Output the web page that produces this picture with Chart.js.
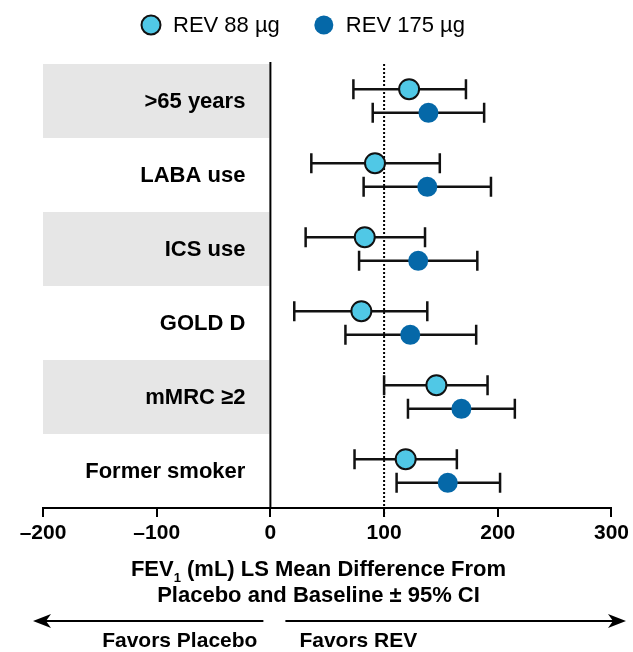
<!DOCTYPE html>
<html>
<head>
<meta charset="utf-8">
<script src="https://cdn.jsdelivr.net/npm/chart.js@4.4.1/dist/chart.umd.min.js"></script>
<style>
  html, body { margin: 0; padding: 0; background: #fff; }
  #wrap { position: relative; width: 633px; height: 652px; }
</style>
</head>
<body>
<div id="wrap"><canvas id="forest"></canvas></div>
<script>
// subgroups, top to bottom
const categories = ['>65 years', 'LABA use', 'ICS use', 'GOLD D', 'mMRC \u22652', 'Former smoker'];

// REV 88 µg: LS mean difference and 95% CI (mL)
const rev88Mean = [122, 92, 83, 80, 146, 119];
const rev88Low  = [73, 36, 31, 21, 100, 74];
const rev88High = [172, 149, 136, 138, 191, 164];

// REV 175 µg
const rev175Mean = [139, 138, 130, 123, 168, 156];
const rev175Low  = [90, 82, 78, 66, 121, 111];
const rev175High = [188, 194, 182, 181, 215, 202];

const xTicks = [-200, -100, 0, 100, 200, 300];
const xTickLabels = ['\u2013200', '\u2013100', '0', '100', '200', '300'];

const FONT = "'Liberation Sans', Arial, Helvetica, sans-serif";
const LIGHT = '#50c8e6';
const DARK = '#0568a8';
const ROW_SHIFT = 0.16;

Chart.defaults.font.family = FONT;
Chart.defaults.color = '#000';

function toPoints(means, lows, highs, shift) {
    return means.map((m, i) => ({ x: m, y: i + shift, lo: lows[i], hi: highs[i] }));
}

const forestDecor = {
    id: 'forestDecor',
    beforeDatasetsDraw(chart) {
        const { ctx, chartArea, scales } = chart;
        const xs = scales.x, ys = scales.y;
        const x0 = xs.getPixelForValue(0);
        ctx.save();

        // shaded rows behind the labels
        ctx.fillStyle = '#e6e6e6';
        categories.forEach((c, i) => {
            if (i % 2 !== 0) return;
            const top = ys.getPixelForValue(i - 0.5);
            const bot = ys.getPixelForValue(i + 0.5);
            ctx.fillRect(chartArea.left, top, x0 - chartArea.left - 1, bot - top);
        });

        // subgroup labels
        ctx.fillStyle = '#000';
        ctx.font = 'bold 22px ' + FONT;
        ctx.textAlign = 'right';
        ctx.textBaseline = 'middle';
        categories.forEach((c, i) => {
            ctx.fillText(c, x0 - 25, ys.getPixelForValue(i) + 1);
        });

        // zero line
        ctx.strokeStyle = '#000';
        ctx.lineWidth = 2;
        ctx.beginPath();
        ctx.moveTo(x0, chartArea.top - 2);
        ctx.lineTo(x0, chartArea.bottom);
        ctx.stroke();

        // dotted line at 100
        const x100 = xs.getPixelForValue(100);
        ctx.setLineDash([2, 2]);
        ctx.beginPath();
        ctx.moveTo(x100, chartArea.top);
        ctx.lineTo(x100, chartArea.bottom + 9);
        ctx.stroke();
        ctx.setLineDash([]);

        // confidence intervals
        ctx.strokeStyle = '#111';
        ctx.lineWidth = 2.5;
        chart.data.datasets.forEach(ds => {
            ds.data.forEach(p => {
                const y = ys.getPixelForValue(p.y);
                const a = xs.getPixelForValue(p.lo);
                const b = xs.getPixelForValue(p.hi);
                ctx.beginPath();
                ctx.moveTo(a, y); ctx.lineTo(b, y);
                ctx.moveTo(a, y - 10); ctx.lineTo(a, y + 10);
                ctx.moveTo(b, y - 10); ctx.lineTo(b, y + 10);
                ctx.stroke();
            });
        });
        ctx.restore();
    },
    afterDraw(chart) {
        const { ctx, scales } = chart;
        const x0 = scales.x.getPixelForValue(0);
        const cx = chart.width / 2 + 2;
        ctx.save();
        ctx.fillStyle = '#000';
        ctx.textBaseline = 'middle';

        // legend
        ctx.font = '22px ' + FONT;
        ctx.textAlign = 'left';
        let lx = 151;
        chart.data.datasets.forEach(ds => {
            ctx.beginPath();
            ctx.arc(lx, 25, 9.5, 0, Math.PI * 2);
            ctx.fillStyle = ds.backgroundColor;
            ctx.fill();
            if (ds.borderWidth) {
                ctx.lineWidth = ds.borderWidth;
                ctx.strokeStyle = ds.borderColor;
                ctx.stroke();
            }
            ctx.fillStyle = '#000';
            ctx.fillText(ds.label, lx + 22, 26);
            lx += 22 + ctx.measureText(ds.label).width + 44;
        });

        // axis title with subscript
        ctx.font = 'bold 22px ' + FONT;
        const p1 = 'FEV', p2 = ' (mL) LS Mean Difference From';
        const w1 = ctx.measureText(p1).width, w2 = ctx.measureText(p2).width;
        ctx.font = 'bold 13px ' + FONT;
        const ws = ctx.measureText('1').width;
        let tx = cx - (w1 + ws + w2) / 2;
        ctx.textAlign = 'left';
        ctx.font = 'bold 22px ' + FONT;
        ctx.fillText(p1, tx, 570);
        ctx.font = 'bold 13px ' + FONT;
        ctx.fillText('1', tx + w1, 578);
        ctx.font = 'bold 22px ' + FONT;
        ctx.fillText(p2, tx + w1 + ws, 570);
        ctx.textAlign = 'center';
        ctx.fillText('Placebo and Baseline \u00b1 95% CI', cx, 596);

        // direction arrows
        ctx.strokeStyle = '#000';
        ctx.lineWidth = 2;
        const ay = 621;
        const leftTip = 33, rightTip = 626;
        ctx.beginPath();
        ctx.moveTo(x0 - 7, ay); ctx.lineTo(leftTip + 10, ay);
        ctx.moveTo(x0 + 15, ay); ctx.lineTo(rightTip - 10, ay);
        ctx.stroke();
        ctx.beginPath();
        ctx.moveTo(leftTip, ay); ctx.lineTo(leftTip + 18, ay - 7); ctx.lineTo(leftTip + 13, ay); ctx.lineTo(leftTip + 18, ay + 7);
        ctx.closePath(); ctx.fill();
        ctx.beginPath();
        ctx.moveTo(rightTip, ay); ctx.lineTo(rightTip - 18, ay - 7); ctx.lineTo(rightTip - 13, ay); ctx.lineTo(rightTip - 18, ay + 7);
        ctx.closePath(); ctx.fill();

        ctx.font = 'bold 21px ' + FONT;
        ctx.textAlign = 'right';
        ctx.fillText('Favors Placebo', x0 - 13, 641);
        ctx.textAlign = 'left';
        ctx.fillText('Favors REV', x0 + 29, 641);
        ctx.restore();
    }
};

new Chart(document.getElementById('forest'), {
    type: 'scatter',
    data: {
        datasets: [{
            label: 'REV 88 \u00b5g',
            data: toPoints(rev88Mean, rev88Low, rev88High, -ROW_SHIFT),
            backgroundColor: LIGHT,
            borderColor: '#111',
            borderWidth: 2,
            pointRadius: 10,
            pointHoverRadius: 10
        }, {
            label: 'REV 175 \u00b5g',
            data: toPoints(rev175Mean, rev175Low, rev175High, ROW_SHIFT),
            backgroundColor: DARK,
            borderColor: DARK,
            borderWidth: 0,
            pointRadius: 10,
            pointHoverRadius: 10
        }]
    },
    options: {
        responsive: true,
        maintainAspectRatio: false,
        animation: false,
        layout: { padding: { top: 64, left: 43, right: 20, bottom: 104 } },
        scales: {
            x: {
                type: 'linear',
                min: -200,
                max: 300,
                afterBuildTicks: scale => { scale.ticks = xTicks.map(v => ({ value: v })); },
                afterFit: scale => { scale.height = 40; },
                ticks: {
                    color: '#000',
                    font: { size: 21, weight: 'bold' },
                    padding: 4,
                    maxRotation: 0,
                    callback: v => xTickLabels[xTicks.indexOf(v)]
                },
                grid: {
                    drawOnChartArea: false,
                    drawTicks: true,
                    tickLength: 9,
                    color: '#000',
                    lineWidth: 2
                },
                border: { display: true, color: '#000', width: 2 }
            },
            y: {
                type: 'linear',
                display: false,
                reverse: true,
                min: -0.5,
                max: categories.length - 0.5
            }
        },
        plugins: {
            legend: { display: false },
            tooltip: { enabled: false }
        }
    },
    plugins: [forestDecor]
});
</script>
</body>
</html>
